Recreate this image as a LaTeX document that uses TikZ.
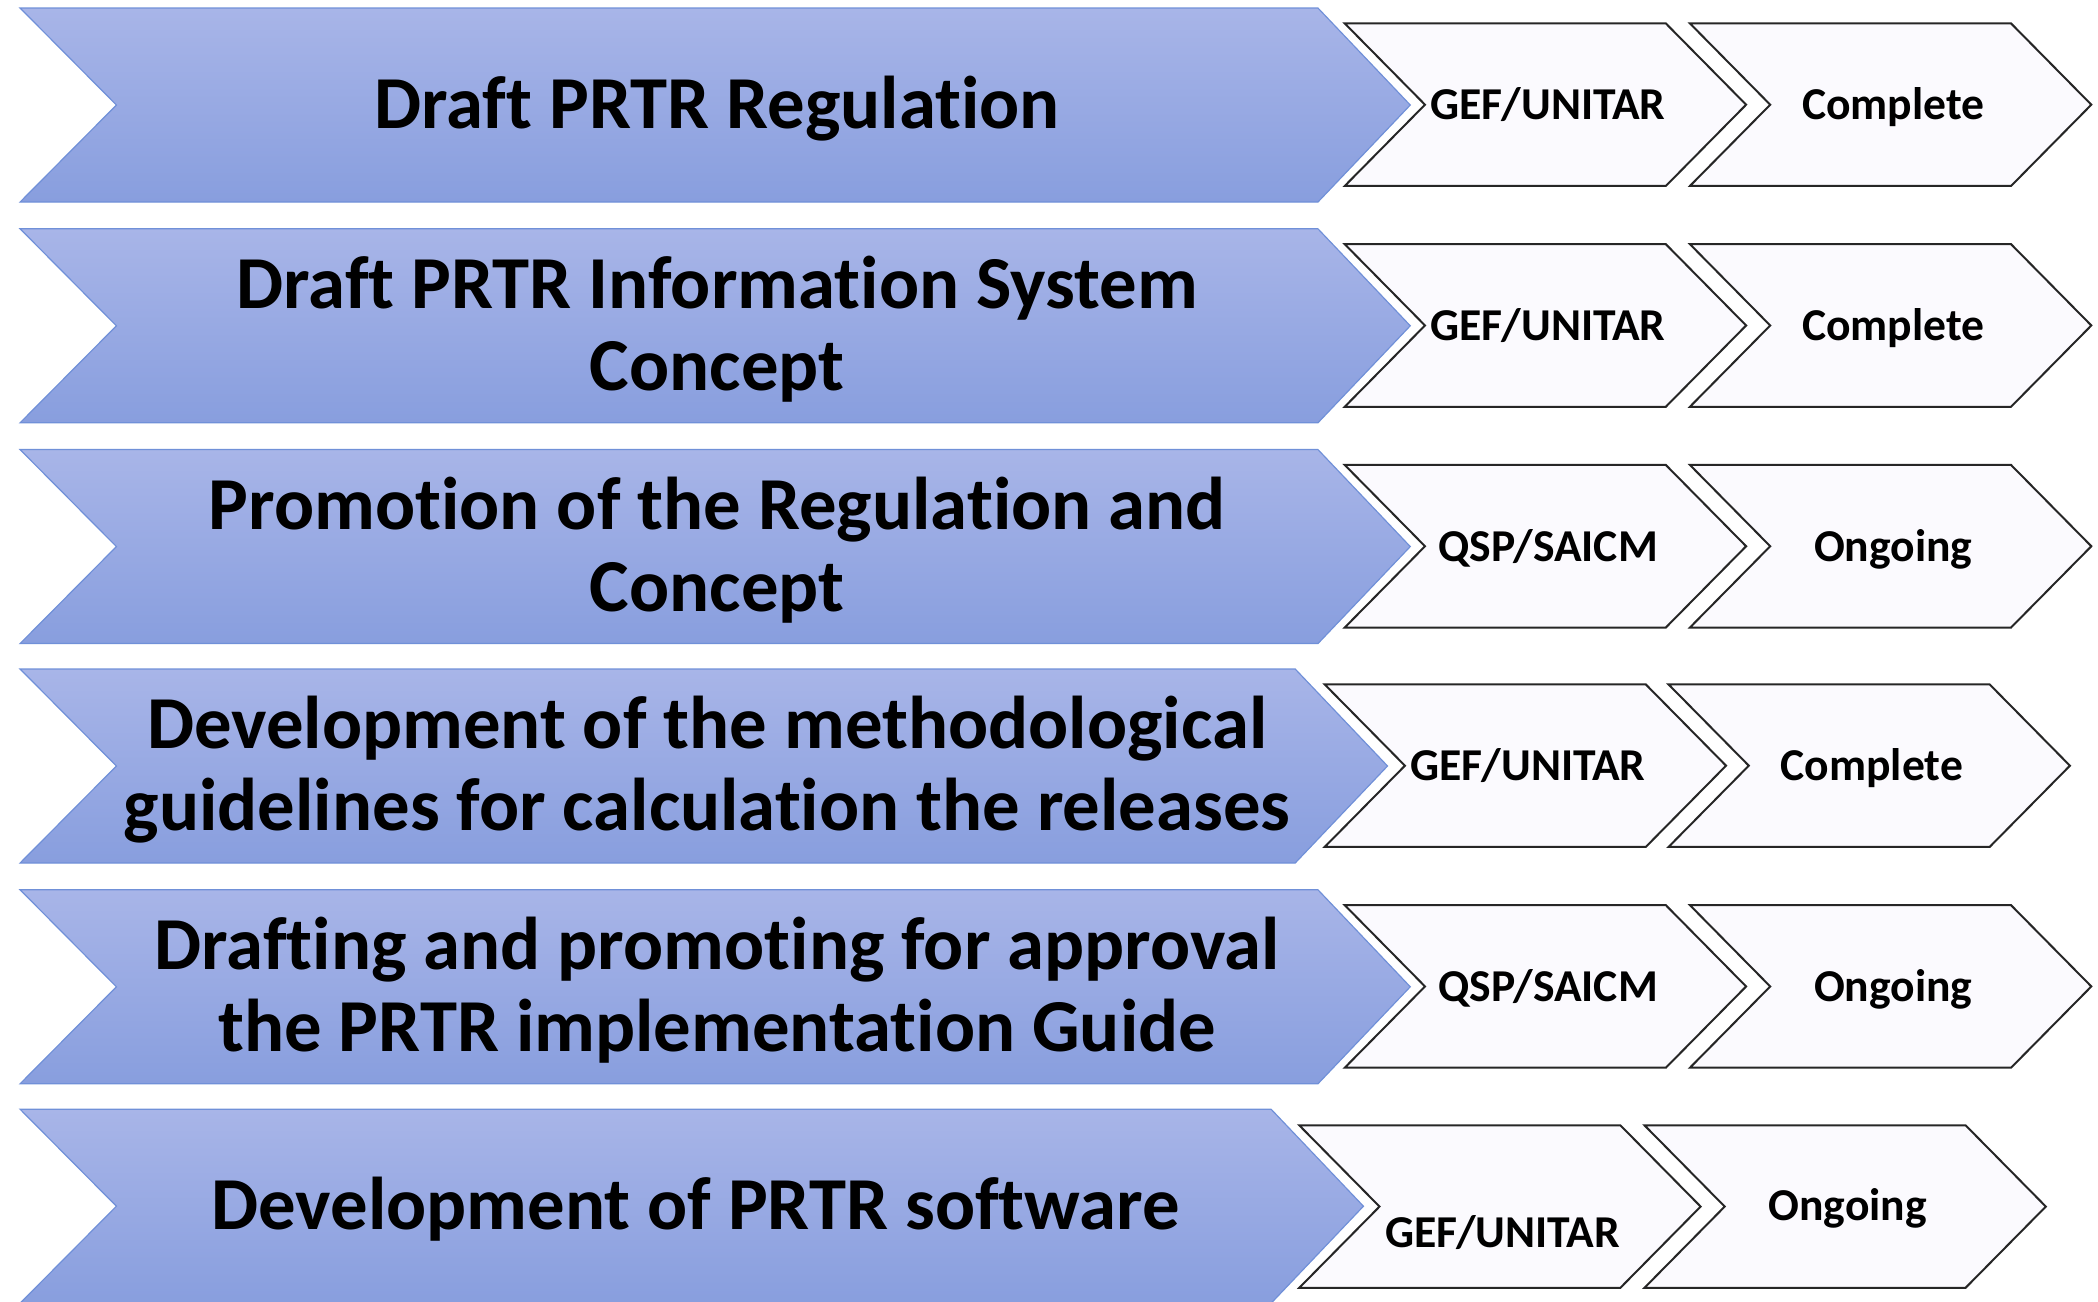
\documentclass[tikz,border=0pt]{standalone}
\usepackage{fontspec}
\setmainfont{Carlito}[Ligatures={NoCommon}]
\definecolor{topblue}{RGB}{168,181,232}
\definecolor{botblue}{RGB}{136,158,222}
\definecolor{bordblue}{RGB}{112,144,216}
\definecolor{paleviolet}{RGB}{251,250,254}
\tikzset{
  bigchev/.style={draw=bordblue, line width=0.5pt, top color=topblue, bottom color=botblue},
  smallchev/.style={draw=black!85, line width=0.85pt, fill=paleviolet, line join=miter},
  bigtxt/.style={font=\fontsize{31.8}{35}\selectfont\bfseries, anchor=base, inner sep=0pt},
  smalltxt/.style={font=\fontsize{19.4}{22}\selectfont\bfseries, anchor=base, inner sep=0pt},
}
% #1 top y, #2 right corner x
\newcommand{\BigChev}[2]{%
  \path[bigchev] (15,#1) -- (#2,#1) -- (#2+69,#1+72.5) -- (#2,#1+145)
    -- (15,#1+145) -- (87,#1+72.5) -- cycle;}
% #1 left x, #2 top y
\newcommand{\SmallChev}[2]{%
  \path[smallchev] (#1,#2) -- (#1+240,#2) -- (#1+300,#2+60.75) -- (#1+240,#2+121.5)
    -- (#1,#2+121.5) -- (#1+60,#2+60.75) -- cycle;}
\begin{document}
\begin{tikzpicture}[x=0.02cm,y=-0.02cm]
\useasboundingbox (0,0) rectangle (1568,973);

% Row 1
\BigChev{6}{985}
\SmallChev{1005}{17.5}
\SmallChev{1263}{17.5}
\node[bigtxt] (r1a) at (536,96) {Draft PRTR Regulation};
\node[smalltxt] (r1b) at (1157,89.3) {GEF/UNITAR};
\node[smalltxt] (r1c) at (1415,89.3) {Complete};

% Row 2
\BigChev{171}{985}
\SmallChev{1005}{182.5}
\SmallChev{1263}{182.5}
\node[bigtxt] (r2a) at (536,230.7) {Draft PRTR Information System};
\node[bigtxt] (r2a2) at (536,291.7) {Concept};
\node[smalltxt] (r2b) at (1157,254.3) {GEF/UNITAR};
\node[smalltxt] (r2c) at (1415,254.3) {Complete};

% Row 3
\BigChev{336}{985}
\SmallChev{1005}{347.5}
\SmallChev{1263}{347.5}
\node[bigtxt] (r3a) at (536,395.7) {Promotion of the Regulation and};
\node[bigtxt] (r3a2) at (536,456.7) {Concept};
\node[smalltxt] (r3b) at (1157,419.3) {QSP/SAICM};
\node[smalltxt] (r3c) at (1415,419.3) {Ongoing};

% Row 4
\BigChev{500}{968}
\SmallChev{990}{511.5}
\SmallChev{1247}{511.5}
\node[bigtxt] (r4a) at (528.5,559.7) {Development of the methodological};
\node[bigtxt] (r4a2) at (528.5,620.7) {guidelines for calculation the releases};
\node[smalltxt] (r4b) at (1142,583.3) {GEF/UNITAR};
\node[smalltxt] (r4c) at (1399,583.3) {Complete};

% Row 5
\BigChev{665}{985}
\SmallChev{1005}{676.5}
\SmallChev{1263}{676.5}
\node[bigtxt] (r5a) at (536,724.7) {Drafting and promoting for approval};
\node[bigtxt] (r5a2) at (536,785.7) {the PRTR implementation Guide};
\node[smalltxt] (r5b) at (1157,748.3) {QSP/SAICM};
\node[smalltxt] (r5c) at (1415,748.3) {Ongoing};

% Row 6
\BigChev{829}{950}
\SmallChev{971}{841}
\SmallChev{1229}{841}
\node[bigtxt] (r6a) at (520,919.2) {Development of PRTR software};
\node[smalltxt] (r6b) at (1123,932) {GEF/UNITAR};
\node[smalltxt] (r6c) at (1381,912) {Ongoing};
\end{tikzpicture}
\end{document}
